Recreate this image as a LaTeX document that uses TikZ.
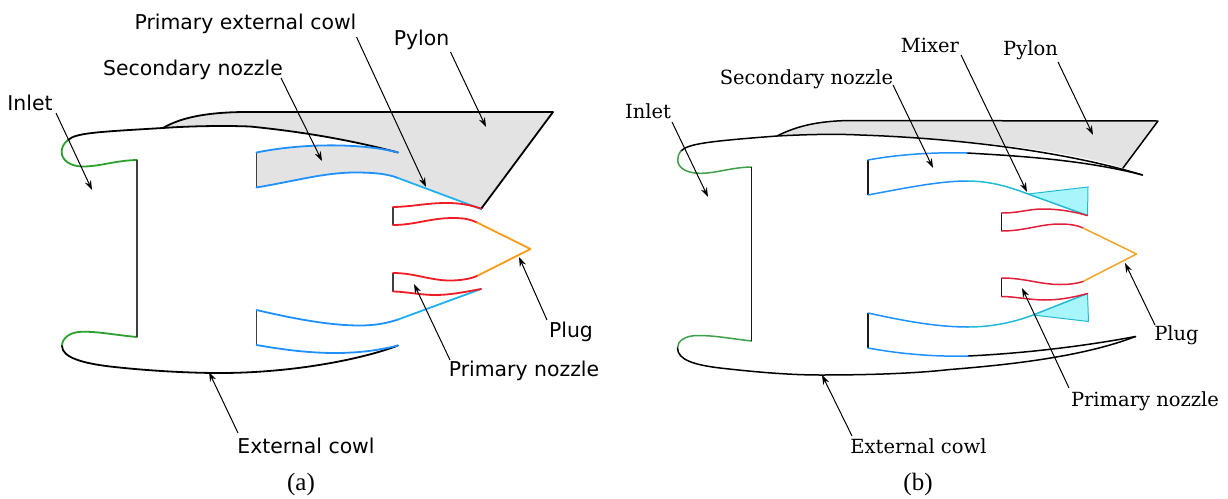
\documentclass[tikz,border=0pt]{standalone}
\usepackage{fontspec}
\newfontfamily\lsans{DejaVu Sans}
\newfontfamily\lserif{DejaVu Serif}
\newfontfamily\lcap{Liberation Serif}
\usetikzlibrary{arrows.meta}
\definecolor{cgreen}{HTML}{2CA02C}
\definecolor{cblue}{HTML}{1E90FF}
\definecolor{clight}{HTML}{1FB0F0}
\definecolor{cred}{HTML}{F01C24}
\definecolor{corange}{HTML}{FF9A14}
\definecolor{pyl}{HTML}{E3E3E3}
\definecolor{mixf}{HTML}{A8F6FB}
\definecolor{ccyan}{HTML}{22BBD6}
\definecolor{cred2}{HTML}{E0203A}
\definecolor{corange2}{HTML}{EFA528}
\definecolor{cgreen2}{HTML}{3FA04A}
\tikzset{
 curve/.style={line width=1.8pt,line cap=round,line join=round},
 curveb/.style={line width=1.5pt,line cap=round,line join=round},
 wall/.style={line width=1.1pt,draw=black!75},
 wallb/.style={line width=1.1pt,draw=black!90},
 lab/.style={inner sep=0pt,font=\lsans\fontsize{20.4}{24}\selectfont},
 labs/.style={inner sep=0pt,font=\lserif\fontsize{19.5}{23}\selectfont},
 captxt/.style={inner sep=0pt,font=\lcap\fontsize{25}{29}\selectfont},
 conn/.style={line width=1pt,-{Stealth[length=9.5pt,width=6.5pt]}}
}
\begin{document}
\begin{tikzpicture}[x=1pt,y=-1pt]
\useasboundingbox (0,0) rectangle (1228,498);
% ---------- (a) ----------
\fill[pyl] (163,128) .. controls (180,118) and (205,112.3) .. (245,112) -- (553,112) -- (481,209) -- (398,178)
  .. controls (388,174) and (375,172.5) .. (355,172.5) .. controls (325,172.5) and (295,181) .. (256.5,187.5)
  -- (256.5,152.5) .. controls (300,143.5) and (360,142.5) .. (398,152.5)
  .. controls (345,138.5) and (295,131) .. (250,126.5) .. controls (225,125.5) and (190,126) .. (163,128) -- cycle;
% nacelle
\draw[curve,black] (68,140) .. controls (76,133) and (95,132) .. (163,128) .. controls (190,126) and (225,125.5) .. (250,126.5) .. controls (295,131) and (345,138.5) .. (398,152.5);
\draw[curve,black] (163,128) .. controls (180,118) and (205,112.3) .. (245,112) -- (553,112) -- (481,209);
\draw[curve,cgreen] (68,140) .. controls (63,144) and (61.7,148) .. (61.7,152) .. controls (61.7,160) and (70,166.5) .. (83,166.5) .. controls (100,166.5) and (115,160.5) .. (137,160);
\draw[curve,cgreen] (137,337) .. controls (115,335) and (100,331.7) .. (83,331.7) .. controls (70,331.7) and (62,338) .. (62,346);
\draw[curve,black] (62,346) .. controls (62,358) and (85,363.5) .. (110,366.5) .. controls (150,371) and (190,373) .. (220,373) .. controls (290,373) and (360,360) .. (398,345.5);
\draw[wall] (137,160) -- (137,337);
\draw[wall] (256.5,152.5) -- (256.5,187.5);
\draw[wall] (256.5,310) -- (256.5,345);
\draw[wall] (393,207) -- (393,225);
\draw[wall] (393,273) -- (393,291.5);
% secondary
\draw[curve,cblue] (256.5,152.5) .. controls (300,143.5) and (360,142.5) .. (398,152.5);
\draw[curve,cblue] (256.5,187.5) .. controls (295,181) and (325,172.5) .. (355,172.5) .. controls (375,172.5) and (388,174) .. (398,178);
\draw[curve,clight] (398,178) -- (481,209);
\draw[curve,cblue] (256.5,310) .. controls (295,319) and (330,325.5) .. (360,325.5) .. controls (375,325.5) and (388,323) .. (398,319.5);
\draw[curve,clight] (398,319.5) -- (481,289);
\draw[curve,cblue] (256.5,345) .. controls (285,350) and (310,353) .. (335,353) .. controls (360,353) and (380,350) .. (398,345.5);
% primary
\draw[curve,cred] (393,207) .. controls (415,206.5) and (425,203) .. (447,203) .. controls (460,203) and (470,205) .. (481,208.5);
\draw[curve,cred] (393,225) .. controls (415,225) and (430,218) .. (453,218) .. controls (463,218) and (470,219) .. (477,222.5);
\draw[curve,corange] (477,222.5) -- (530.5,249) -- (477,276);
\draw[curve,cred] (477,276) .. controls (470,279) and (460,280.5) .. (450,280.5) .. controls (430,280.5) and (415,273) .. (393,273);
\draw[curve,cred] (393,291.5) .. controls (405,291.5) and (420,295) .. (435,295) .. controls (450,295) and (465,292) .. (481,289);
% labels (a)
\node[lab] (aInlet) at (30,102.5) {Inlet};
\node[lab] (aSec) at (193,69.5) {Secondary nozzle};
\node[lab] (aPec) at (245.5,23.5) {Primary external cowl};
\node[lab] (aPyl) at (421.5,40) {Pylon};
\node[lab] (aPlug) at (571,332) {Plug};
\node[lab] (aPn) at (524,371) {Primary nozzle};
\node[lab] (aEc) at (306,446) {External cowl};
\node[captxt] (capA) at (301,484) {(a)};
\coordinate (aT1) at (92,190);
\coordinate (aT2) at (322,161);
\coordinate (aT3) at (426,187);
\coordinate (aT4) at (486,127);
\coordinate (aT5) at (519,257);
\coordinate (aT6) at (414,284);
\coordinate (aT7) at (209,372);
\draw[conn] ([shift={(26,10.5)}]aInlet.center) -- (aT1);
\draw[conn] ([shift={(88,8.5)}]aSec.center) -- (aT2);
\draw[conn] ([shift={(111,13.5)}]aPec.center) -- (aT3);
\draw[conn] ([shift={(29,12)}]aPyl.center) -- (aT4);
\draw[conn] ([shift={(-24,-12)}]aPlug.center) -- (aT5);
\draw[conn] ([shift={(-74,-11)}]aPn.center) -- (aT6);
\draw[conn] ([shift={(-68,-13)}]aEc.center) -- (aT7);
% ---------- (b) ----------
\fill[pyl] (777,136) .. controls (795,127) and (815,121) .. (850,120.5) -- (1158,121) -- (1123,168)
  -- (1123,168) .. controls (1060,148) and (950,138) .. (860,135) .. controls (840,134) and (815,134) .. (777,136) -- cycle;
\fill[mixf] (1028,194) -- (1088,187) -- (1087.5,215.5) -- cycle;
\fill[mixf] (1033,315) -- (1088.5,321.5) -- (1087.5,293.5) -- cycle;
\draw[line width=1pt,ccyan] (1028,194) -- (1088,187) -- (1087.5,215.5);
\draw[line width=1pt,ccyan] (1033,315) -- (1088.5,321.5) -- (1087.5,293.5);
\draw[curveb,black] (681,151) .. controls (688,144) and (705,141.5) .. (777,136) .. controls (815,134) and (840,134) .. (860,135) .. controls (950,138) and (1060,150) .. (1142.5,175);
\draw[curveb,black] (777,136) .. controls (795,127) and (815,121) .. (850,120.5) -- (1158,121) -- (1123,168);
\draw[curveb,black] (967,153) .. controls (1020,156) and (1085,160) .. (1142.5,175);
\draw[curveb,cgreen2] (681,151) .. controls (678.5,154) and (677.7,157) .. (677.7,160) .. controls (677.7,168) and (687,173.3) .. (700,173.3) .. controls (717,173.3) and (730,167.5) .. (751.5,167);
\draw[curveb,cgreen2] (751.5,341) .. controls (730,338.5) and (715,335.5) .. (698,335.5) .. controls (685,335.5) and (677.5,341) .. (677.5,348);
\draw[curveb,black] (677.5,348) .. controls (677.5,360) and (695,365) .. (720,368) .. controls (755,372) and (790,375) .. (820,375) .. controls (860,375) and (910,374) .. (950,369.5) .. controls (1000,365.5) and (1080,358) .. (1135.5,336.5);
\draw[curveb,black] (968,356) .. controls (1020,353.5) and (1080,347) .. (1135.5,336.5);
\draw[wallb] (751.5,167) -- (751.5,341);
\draw[wallb] (868,160) -- (868,195);
\draw[wallb] (868,313) -- (868,348);
\draw[wallb] (1001.5,213) -- (1001.5,231);
\draw[wallb] (1001.5,278) -- (1001.5,296.5);
\draw[curveb,cblue] (868,160) .. controls (895,155) and (930,152) .. (967,153);
\draw[curveb,cblue] (868,195) .. controls (905,188) and (940,181) .. (967,181);
\draw[curveb,ccyan] (967,181) .. controls (990,181) and (1010,187) .. (1028,194) -- (1087.5,215.5);
\draw[curveb,cblue] (868,313) .. controls (900,320) and (935,327) .. (968,327);
\draw[curveb,ccyan] (968,327) .. controls (990,327) and (1012,323) .. (1033,315) -- (1087.5,293.5);
\draw[curveb,cblue] (868,348) .. controls (895,353) and (930,357) .. (968,356);
\draw[curveb,cred2] (1001.5,213) .. controls (1020,213) and (1028,209) .. (1043,209) .. controls (1060,209) and (1075,212) .. (1087.5,215.5);
\draw[curveb,cred2] (1001.5,231) .. controls (1025,231) and (1040,224) .. (1060,224) .. controls (1070,224) and (1078,225.5) .. (1083,228);
\draw[curveb,corange2] (1083,228) -- (1136.5,254) -- (1083,281.5);
\draw[curveb,cred2] (1083,281.5) .. controls (1075,284) and (1068,284.5) .. (1060,284.5) .. controls (1040,284.5) and (1025,278) .. (1001.5,278);
\draw[curveb,cred2] (1001.5,296.5) .. controls (1015,296.5) and (1030,300) .. (1045,300) .. controls (1060,300) and (1075,297) .. (1087.5,293.5);
% labels (b)
\node[labs] (bInlet) at (648,111.5) {Inlet};
\node[labs] (bSec) at (806.5,79.5) {Secondary nozzle};
\node[labs] (bMix) at (930,45.5) {Mixer};
\node[labs] (bPyl) at (1030.5,50.5) {Pylon};
\node[labs] (bPlug) at (1176.5,335) {Plug};
\node[labs] (bPn) at (1145,401) {Primary nozzle};
\node[labs] (bEc) at (918.5,446) {External cowl};
\node[captxt] (capB) at (918,484) {(b)};
\coordinate (bT1) at (708,197);
\coordinate (bT2) at (933,168);
\coordinate (bT3) at (1027,192);
\coordinate (bT4) at (1093,135);
\coordinate (bT5) at (1125,263);
\coordinate (bT6) at (1022,288);
\coordinate (bT7) at (822,375);
\draw[conn] ([shift={(24,10.5)}]bInlet.center) -- (bT1);
\draw[conn] ([shift={(86.5,5.5)}]bSec.center) -- (bT2);
\draw[conn] ([shift={(31,9.5)}]bMix.center) -- (bT3);
\draw[conn] ([shift={(27.5,11.5)}]bPyl.center) -- (bT4);
\draw[conn] ([shift={(-21.5,-10)}]bPlug.center) -- (bT5);
\draw[conn] ([shift={(-76,-13)}]bPn.center) -- (bT6);
\draw[conn] ([shift={(-66.5,-10)}]bEc.center) -- (bT7);
\end{tikzpicture}
\end{document}
